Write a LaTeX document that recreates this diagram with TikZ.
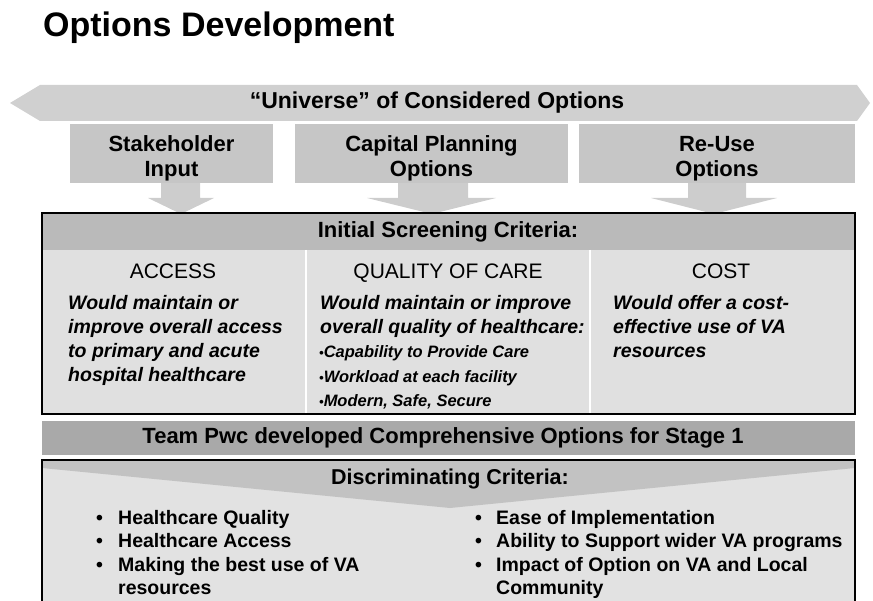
\documentclass[tikz,border=0pt]{standalone}
\usepackage{fontspec}
\setmainfont{Liberation Sans}
\usetikzlibrary{positioning}

\definecolor{univgray}{HTML}{D0D0D0}
\definecolor{optgray}{HTML}{C6C6C6}
\definecolor{downgray}{HTML}{CDCDCD}
\definecolor{headgray}{HTML}{BABABA}
\definecolor{colgray}{HTML}{E0E0E0}
\definecolor{teamgray}{HTML}{A9A9A9}
\definecolor{discgray}{HTML}{E2E2E2}
\definecolor{chevgray}{HTML}{C2C2C2}

\begin{document}
\begin{tikzpicture}[x=1pt,y=-1pt,
    optbox/.style={fill=optgray, inner sep=0pt},
    optlabel/.style={align=center, inner sep=0pt,
        font=\fontsize{22}{25}\selectfont\bfseries},
    bandtext/.style={font=\fontsize{22}{24}\selectfont\bfseries},
    colhead/.style={anchor=base, font=\fontsize{21}{24}\selectfont},
    coltext/.style={anchor=base west, align=left, inner sep=0pt,
        font=\fontsize{19.5}{24}\selectfont\bfseries\itshape},
    bulltext/.style={anchor=base west, align=left, inner sep=0pt,
        font=\fontsize{19.5}{23.5}\selectfont\bfseries}]
    \useasboundingbox (0,0) rectangle (873,601);

    \node[anchor=base west, inner sep=0pt, font=\fontsize{34}{40}\selectfont\bfseries] (title) at (43,37) {Options Development};

    \fill[univgray] (10,103) -- (40,85) -- (857,85) -- (870,103) -- (857,121) -- (40,121) -- cycle;
    \node[bandtext, font=\fontsize{23}{26}\selectfont\bfseries] (univ) at (437,103) {“Universe” of Considered Options};

    \fill[downgray] (161,182) -- (200,182) -- (200,198) -- (214,198) -- (181,214) -- (148,198) -- (161,198) -- cycle;
    \fill[downgray] (398,182) -- (468,182) -- (468,198) -- (496,198) -- (432,214) -- (367,198) -- (398,198) -- cycle;
    \fill[downgray] (688,182) -- (746,182) -- (746,198) -- (777,198) -- (714,214) -- (651,198) -- (688,198) -- cycle;

    \node[optbox, minimum width=203, minimum height=59] (stake) at (171.5,153.5) {};
    \node[optbox, minimum width=273, minimum height=59] (capital) at (431.5,153.5) {};
    \node[optbox, minimum width=276, minimum height=59] (reuse) at (717,153.5) {};
    \node[optlabel] (stakelabel) at ([yshift=-5pt]stake.center) {Stakeholder\\Input};
    \node[optlabel] (capitallabel) at ([yshift=-5pt]capital.center) {Capital Planning\\Options};
    \node[optlabel] (reuselabel) at ([yshift=-5pt]reuse.center) {Re-Use\\Options};

    % initial screening
    \fill[colgray] (42,213) rectangle (855,414);
    \fill[headgray] (42,213) rectangle (855,250);
    \draw[white, line width=2] (306,250) -- (306,413);
    \draw[white, line width=2] (590,250) -- (590,413);
    \draw[line width=1.6] (42,213) rectangle (855,414);
    \node[bandtext] (screen) at (448,232) {Initial Screening Criteria:};

    \node[colhead] (access) at (173,279) {ACCESS};
    \node[colhead] (quality) at (448,279) {QUALITY OF CARE};
    \node[colhead] (cost) at (721,279) {COST};

    \node[coltext] (accesstext) at (68,382) {Would maintain or\\improve overall access\\to primary and acute\\hospital healthcare};
    \node[coltext] (qualitytext) at (320,334) {Would maintain or improve\\overall quality of healthcare:};
    \node[coltext, font=\fontsize{16.5}{24.5}\selectfont\bfseries\itshape] (qualitylist) at (319,407)
        {{\fontsize{13}{13}\selectfont•}Capability to Provide Care\\{\fontsize{13}{13}\selectfont•}Workload at each facility\\{\fontsize{13}{13}\selectfont•}Modern, Safe, Secure};
    \node[coltext] (costtext) at (613,358) {Would offer a cost-\\effective use of VA\\resources};

    % team band
    \fill[teamgray] (42,421) rectangle (855,455);
    \node[bandtext] (team) at (443,438) {Team Pwc developed Comprehensive Options for Stage 1};

    % discriminating criteria
    \fill[discgray] (42,460) rectangle (855,601);
    \fill[chevgray] (42,461) -- (855,461) -- (855,468) -- (450,508) -- (42,468) -- cycle;
    \draw[line width=1.6] (42,601) -- (42,460) -- (855,460) -- (855,601);
    \node[bandtext, font=\fontsize{21.5}{24}\selectfont\bfseries] (disc) at (450,479) {Discriminating Criteria:};

    \node[bulltext] (leftlist) at (96,524) {\begin{tabular}[t]{@{}p{22pt}@{}l@{}}
        • & Healthcare Quality\\
        • & Healthcare Access\\
        • & Making the best use of VA\\
          & resources
    \end{tabular}};
    \node[bulltext] (rightlist) at (475,524) {\begin{tabular}[t]{@{}p{21pt}@{}l@{}}
        • & Ease of Implementation\\
        • & Ability to Support wider VA programs\\
        • & Impact of Option on VA and Local\\
          & Community
    \end{tabular}};
\end{tikzpicture}
\end{document}
